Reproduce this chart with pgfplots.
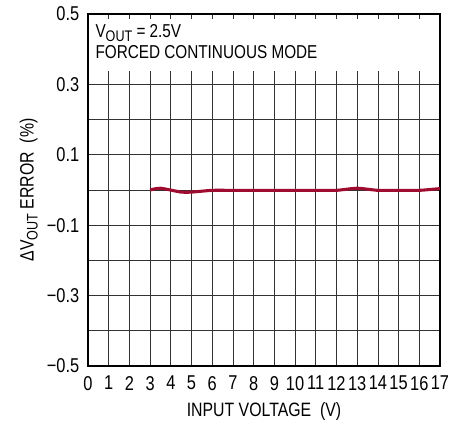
\documentclass[border=0pt]{standalone}
\usepackage{fontspec}
\setmainfont{Liberation Sans}[FakeStretch=0.82]
\usepackage{pgfplots}
\pgfplotsset{compat=1.18}
\definecolor{ltred}{RGB}{160,12,48}
\newcommand\sub[1]{\raisebox{-0.4ex}{\fontsize{11.5}{12}\selectfont #1}}
\begin{document}
\begin{tikzpicture}[x=1pt,y=1pt]
\begin{axis}[
  scale only axis,
  width=264pt, height=264pt,
  xmin=0, xmax=17, ymin=-0.5, ymax=0.5,
  xtick={0,1,...,17},
  ytick={-0.5,-0.3,-0.1,0.1,0.3,0.5},
  yticklabels={−0.5,−0.3,−0.1,0.1,0.3,0.5},
  minor ytick={-0.4,-0.2,0,0.2,0.4},
  grid=both,
  major grid style={black!80, line width=0.5pt},
  minor grid style={black!80, line width=0.5pt},
  axis line style={black, line width=0.9pt},
  major tick length=0pt, minor tick length=0pt,
  tick label style={font=\fontsize{15}{17}\selectfont},
  label style={font=\fontsize{14.5}{16}\selectfont},
  /pgf/number format/assume math mode=true,
  xticklabel style={yshift=-4pt},
  yticklabel style={xshift=-3pt},
  xlabel={INPUT VOLTAGE\ \ (V)},
  ylabel={ΔV\sub{OUT} ERROR\ \ (\%)},
  xlabel style={yshift=-2pt},
  ylabel style={yshift=0pt},
  clip=false,
]
\fill[white] (axis cs:0.04,0.338) rectangle (axis cs:16.96,0.487);
\node[anchor=north west, align=left, inner sep=0pt, font=\fontsize{14}{15.5}\selectfont] at (axis cs:0.35,0.47) {V\sub{OUT} = 2.5V\\FORCED CONTINUOUS MODE};
\addplot[ltred, line width=2.3pt, smooth, tension=0.4] coordinates {
(3,0) (3.5,0.005) (4.5,-0.006) (5,-0.006) (6,-0.001) (7,-0.001) (8,-0.001) (9,-0.001) (10,-0.001) (11,-0.001) (12,-0.001) (13,0.005) (14,-0.001) (15,-0.001) (16,-0.001) (17,0.004)
};
\end{axis}
\pgfresetboundingbox
\path (-66pt,-41.25pt) rectangle (280.5pt,274.5pt);
\end{tikzpicture}
\end{document}
